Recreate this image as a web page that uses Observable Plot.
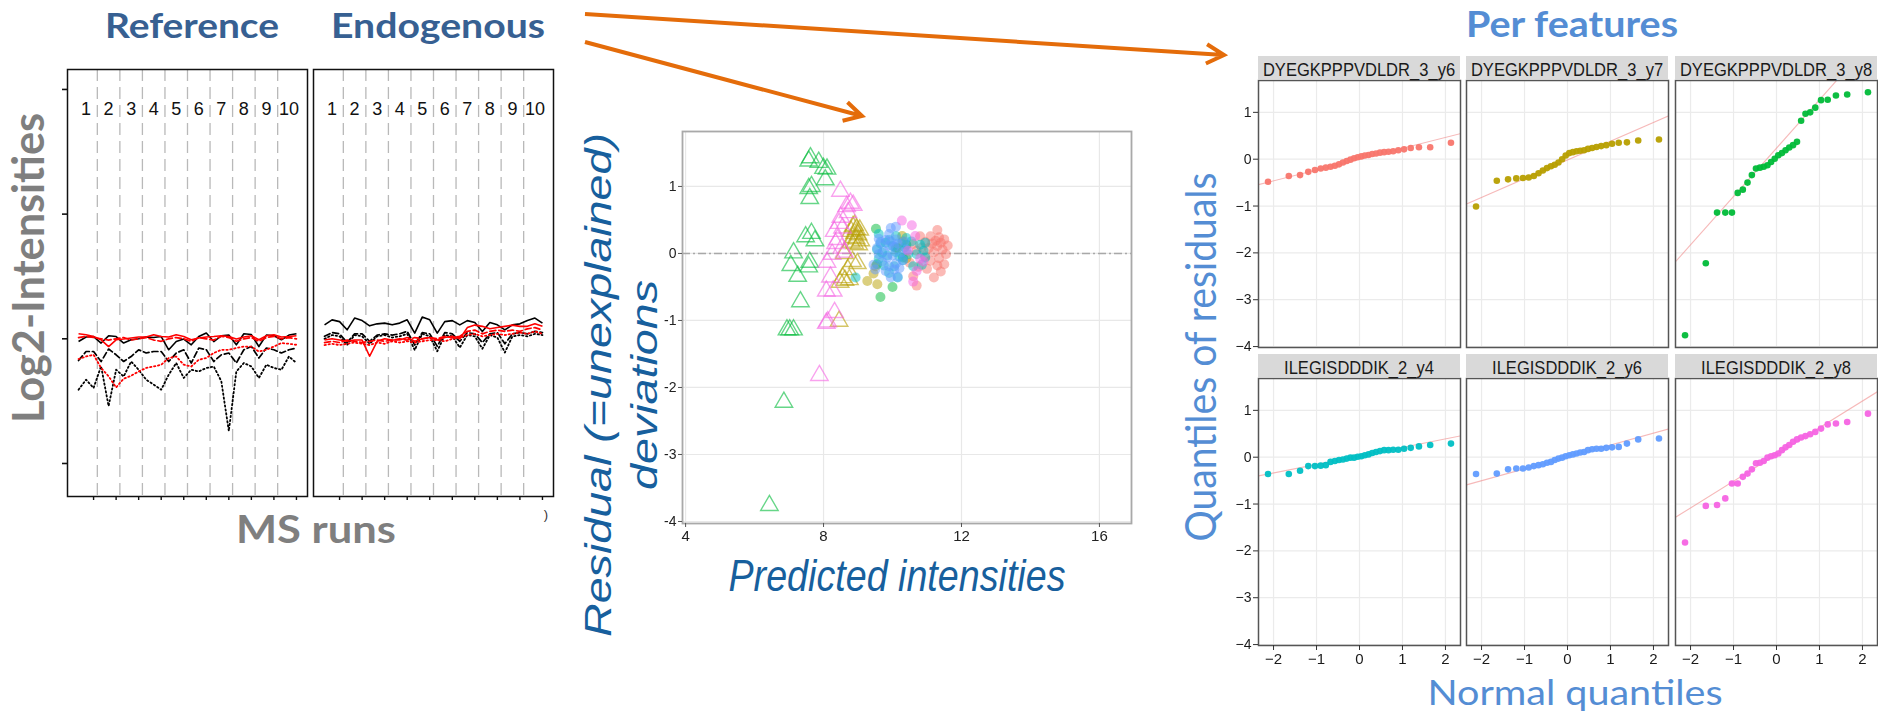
<!DOCTYPE html>
<html>
<head>
<meta charset="utf-8">
<script src="https://cdn.jsdelivr.net/npm/d3@7"></script>
<script src="https://cdn.jsdelivr.net/npm/@observablehq/plot@0.6"></script>
<style>
  html, body { margin: 0; padding: 0; background: #fff; overflow: hidden; }
  #page { position: relative; width: 1878px; height: 712px; overflow: hidden; background: #fff; }
</style>
</head>
<body>
<div id="page"></div>
<script>
// ---------- Profile plot: log2 intensities per MS run (10 groups x 3 runs) ----------
const runGroups = ["1", "2", "3", "4", "5", "6", "7", "8", "9", "10"];
const runsPerGroup = 3;

// Reference (heavy) label
const refDYEG_solid  = [14.89,15.07,15.09,14.83,15.12,15.09,14.83,14.96,15.00,15.07,15.05,15.09,14.56,14.89,14.99,14.76,15.09,15.23,14.89,15.12,15.15,14.76,15.20,15.17,14.69,15.15,15.12,14.96,15.15,15.20];
const refDYEG_dashed = [14.13,14.49,14.49,14.09,14.59,14.36,14.09,14.29,14.56,14.43,14.49,14.49,14.09,14.43,14.56,14.03,14.63,14.56,14.09,14.36,14.43,14.03,14.56,14.69,14.23,14.63,14.56,14.43,14.56,14.63];
const refDYEG_dotted = [12.96,13.36,13.03,13.90,12.30,13.76,13.49,14.09,13.76,13.36,13.16,12.96,13.56,14.03,13.43,13.76,13.69,13.83,13.89,13.30,11.30,13.69,14.03,13.89,13.43,13.96,13.83,13.76,14.29,14.03];
const refILEG_solid  = [15.20,15.16,15.09,14.96,14.69,14.96,14.99,15.03,15.07,15.07,15.16,15.09,15.07,15.16,15.09,14.96,15.03,15.07,15.09,15.12,15.09,14.99,15.07,15.12,14.96,15.12,15.16,15.07,15.09,15.12];
const refILEG_dashed = [15.05,15.10,15.05,15.00,14.95,15.00,15.05,14.95,15.00,15.05,14.95,14.90,15.00,15.05,15.00,14.90,15.05,15.00,14.95,15.10,15.05,14.90,15.00,15.05,14.90,15.05,15.10,15.00,15.05,15.00];
const refILEG_dotted = [14.19,14.29,14.36,13.83,13.50,13.05,13.40,13.52,13.69,13.83,13.89,13.96,14.23,14.29,13.96,13.89,14.16,14.23,14.43,14.56,14.56,14.63,14.69,14.69,14.49,14.56,14.69,14.83,14.80,14.76];

// Endogenous (light) label
const endoDYEG_solid  = [15.56,15.76,15.69,15.36,15.83,15.73,15.52,15.60,15.63,15.56,15.63,15.76,15.23,15.87,15.76,15.23,15.69,15.73,15.56,15.73,15.65,15.29,15.65,15.56,15.36,15.56,15.60,15.73,15.83,15.63];
const endoDYEG_dashed = [15.10,15.25,15.20,14.85,15.20,15.20,14.90,15.15,15.20,15.15,15.20,15.30,14.75,15.25,15.20,14.70,15.25,15.20,14.90,15.25,15.20,14.85,15.20,15.25,14.80,15.20,15.25,15.20,15.30,15.25];
const endoDYEG_dotted = [15.00,15.15,15.10,14.75,15.15,15.10,14.80,15.10,15.15,15.05,15.10,15.20,14.55,15.20,15.10,14.50,15.15,15.10,14.65,15.15,15.10,14.60,15.15,15.05,14.45,15.10,15.15,15.10,15.20,15.15];
const endoILEG_solid  = [14.95,15.00,14.95,14.90,14.95,14.95,14.30,14.90,15.00,14.95,14.95,15.05,14.90,15.00,15.05,14.95,15.05,15.10,15.00,15.45,15.55,15.50,15.40,15.45,15.50,15.55,15.50,15.50,15.60,15.50];
const endoILEG_dashed = [14.85,14.90,14.85,14.95,14.90,14.85,14.90,14.95,14.90,14.95,15.00,14.95,15.05,15.00,15.05,15.00,15.10,15.05,15.10,15.30,15.35,15.20,15.30,15.35,15.30,15.35,15.30,15.40,15.45,15.35];
const endoILEG_dotted = [14.75,14.80,14.75,14.80,14.85,14.80,14.75,14.85,14.80,14.90,14.85,14.90,14.85,14.90,14.95,14.95,14.90,15.00,15.05,15.15,15.20,15.10,15.15,15.20,15.15,15.20,15.25,15.20,15.30,15.20];

const profileTicksY = [10, 15, 20, 25];

// ---------- Residuals per feature (same runs feed the scatter and the Q-Q panels) ----------
const features = ["DYEGKPPPVDLDR_3_y6", "DYEGKPPPVDLDR_3_y7", "DYEGKPPPVDLDR_3_y8",
                  "ILEGISDDDIK_2_y4", "ILEGISDDDIK_2_y6", "ILEGISDDDIK_2_y8"];
const featureColors = ["#F8766D", "#B79F00", "#00BA38", "#00BFC4", "#619CFF", "#F564E3"];

const dy6Resid = [-0.48,-0.36,-0.34,-0.27,-0.23,-0.20,-0.18,-0.16,-0.14,-0.11,-0.07,-0.04,-0.01,0.02,0.04,0.06,0.08,0.09,0.11,0.12,0.14,0.15,0.16,0.17,0.19,0.21,0.24,0.255,0.255,0.35];
const dy6Pred  = [10.70,11.20,10.60,11.40,11.00,10.75,11.30,11.50,10.50,11.10,11.35,10.95,11.55,11.20,10.70,11.45,11.05,10.85,11.30,11.60,10.60,11.15,11.40,10.95,11.25,11.50,11.35,11.10,10.80,11.30];
const dy6Shape = "cccccccccccccccccccccccccccccc";

const dy7Resid = [-1.01,-0.46,-0.43,-0.41,-0.40,-0.39,-0.36,-0.30,-0.24,-0.19,-0.15,-0.12,-0.07,0.00,0.08,0.13,0.15,0.17,0.18,0.19,0.22,0.24,0.26,0.28,0.30,0.33,0.35,0.36,0.40,0.42];
const dy7Pred  = [8.45,9.56,8.48,9.27,8.62,8.75,8.55,9.45,8.70,9.51,8.98,8.84,10.40,8.60,10.15,9.02,8.90,8.80,10.30,9.08,8.95,8.85,10.28,9.00,8.90,8.80,9.05,8.95,8.85,8.90];
const dy7Shape = "tctctttctcttctctttctttcttttttt";

const dy8Resid = [-3.76,-2.22,-1.14,-1.14,-1.14,-0.72,-0.65,-0.50,-0.34,-0.20,-0.18,-0.16,-0.13,-0.06,0.01,0.085,0.13,0.19,0.25,0.30,0.37,0.82,0.97,1.00,1.10,1.26,1.27,1.36,1.38,1.43];
const dy8Pred  = [6.43,6.85,6.94,7.02,7.13,7.33,9.65,10.00,7.25,7.57,7.05,9.55,7.60,10.30,7.13,10.10,10.40,7.75,7.48,7.65,9.52,7.60,7.57,7.65,8.05,8.10,8.00,7.86,7.57,7.62];
const dy8Shape = "ttttttcctttctctcctttcttttttttt";

const il4Resid = [-0.36,-0.36,-0.29,-0.19,-0.19,-0.18,-0.17,-0.10,-0.08,-0.06,-0.05,-0.03,-0.01,-0.01,0.01,0.02,0.04,0.06,0.09,0.11,0.13,0.15,0.15,0.16,0.16,0.18,0.20,0.23,0.26,0.29];
const il4Pred  = [8.93,10.15,9.90,10.60,10.05,9.75,10.85,10.30,9.60,10.95,10.20,9.85,10.45,10.70,9.70,10.10,10.90,9.55,10.35,10.00,10.80,9.65,10.25,10.95,9.80,10.55,9.90,10.40,10.10,9.60];
const il4Shape = "cccccccccccccccccccccccccccccc";

const il6Resid = [-0.36,-0.35,-0.26,-0.24,-0.24,-0.22,-0.19,-0.17,-0.15,-0.12,-0.10,-0.06,-0.03,-0.01,0.02,0.04,0.06,0.08,0.10,0.11,0.15,0.17,0.18,0.18,0.20,0.21,0.22,0.29,0.38,0.40];
const il6Pred  = [9.95,10.15,9.80,10.05,9.50,10.20,9.90,9.45,10.10,9.70,10.30,9.85,10.00,9.60,10.25,9.75,10.40,9.55,10.05,9.90,10.15,9.65,9.95,10.35,9.80,10.10,9.60,9.90,9.95,10.10];
const il6Shape = "cccccccccccccccccccccccccccccc";

const il8Resid = [-1.82,-1.04,-1.02,-0.88,-0.56,-0.56,-0.42,-0.35,-0.26,-0.13,-0.12,-0.08,-0.01,0.02,0.04,0.08,0.15,0.21,0.26,0.33,0.38,0.42,0.45,0.49,0.54,0.61,0.70,0.72,0.75,0.93];
const il8Pred  = [7.88,8.08,8.12,8.32,8.08,8.28,10.60,8.20,10.70,8.10,10.90,10.80,8.25,8.60,10.45,8.53,8.35,8.41,10.66,8.31,8.55,10.56,8.45,10.27,8.50,8.71,8.67,8.86,8.78,8.49];
const il8Shape = "ttttttctctccttctttcttctctttttt";

const scatterTicksX = [4, 8, 12, 16];
const residTicks = [-4, -3, -2, -1, 0, 1];
const normalTicks = [-2, -1, 0, 1, 2];

// ---------- helpers ----------
const page = document.getElementById("page");
const FONT = "'Liberation Sans', Arial, sans-serif";
const intMinus = d => (d < 0 ? "\u2212" : "") + Math.abs(d);

function place(node, left, top, filter) {
  node.style.position = "absolute";
  node.style.left = left + "px";
  node.style.top = top + "px";
  if (filter) node.style.filter = filter;
  page.appendChild(node);
  return node;
}

// inverse standard normal CDF (Acklam)
function qnorm(p) {
  const a = [-3.969683028665376e+01, 2.209460984245205e+02, -2.759285104469687e+02, 1.383577518672690e+02, -3.066479806614716e+01, 2.506628277459239e+00];
  const b = [-5.447609879822406e+01, 1.615858368580409e+02, -1.556989798598866e+02, 6.680131188771972e+01, -1.328068155288572e+01];
  const c = [-7.784894002430293e-03, -3.223964580411365e-01, -2.400758277161838e+00, -2.549732539343734e+00, 4.374664141464968e+00, 2.938163982698783e+00];
  const d = [7.784695709041462e-03, 3.224671290700398e-01, 2.445134137142996e+00, 3.754408661907416e+00];
  const pl = 0.02425;
  if (p < pl) {
    const q = Math.sqrt(-2 * Math.log(p));
    return (((((c[0]*q+c[1])*q+c[2])*q+c[3])*q+c[4])*q+c[5]) / ((((d[0]*q+d[1])*q+d[2])*q+d[3])*q+1);
  }
  if (p > 1 - pl) {
    const q = Math.sqrt(-2 * Math.log(1 - p));
    return -(((((c[0]*q+c[1])*q+c[2])*q+c[3])*q+c[4])*q+c[5]) / ((((d[0]*q+d[1])*q+d[2])*q+d[3])*q+1);
  }
  const q = p - 0.5, r = q * q;
  return (((((a[0]*r+a[1])*r+a[2])*r+a[3])*r+a[4])*r+a[5])*q / (((((b[0]*r+b[1])*r+b[2])*r+b[3])*r+b[4])*r+1);
}

// ---------- profile panels ----------
const groupBreaks = runGroups.slice(1).map((g, i) => (i + 1) * runsPerGroup + 0.5);
const groupCenters = runGroups.map((g, i) => i * runsPerGroup + (runsPerGroup + 1) / 2);
const runTicks = runGroups.map((g, i) => (i + 1) * runsPerGroup);

function profilePanel(series, withYAxis) {
  const ml = withYAxis ? 10 : 1;
  const lineMark = (vals, color, dash, width) => Plot.line(vals, {
    x: (d, i) => i + 1, y: d => d, stroke: color, strokeWidth: width,
    strokeDasharray: dash, strokeLinecap: dash ? "round" : "butt", curve: "linear"
  });
  return Plot.plot({
    width: ml + 240 + 2, height: 2 + 427 + 8,
    marginLeft: ml, marginRight: 2, marginTop: 2, marginBottom: 8,
    style: {fontFamily: FONT, background: "transparent", overflow: "visible", color: "#111"},
    x: {domain: [-0.47, 31.47], axis: null},
    y: {domain: [8.676, 25.8], axis: null},
    marks: [
      Plot.ruleX(groupBreaks, {stroke: "#b9b9b9", strokeWidth: 1.3, strokeDasharray: "12,6"}),
      Plot.text(runGroups, {x: (d, i) => groupCenters[i], frameAnchor: "top", dy: 33, fontSize: 18, fill: "#111", text: d => d}),
      lineMark(series[0], "#000", "1.4,2.6", 1.8),
      lineMark(series[1], "#000", "6,3", 1.7),
      lineMark(series[2], "#000", null, 1.6),
      lineMark(series[3], "#ff0000", "1.4,2.6", 1.8),
      lineMark(series[4], "#ff0000", "6,3", 1.7),
      lineMark(series[5], "#ff0000", null, 1.6),
      Plot.frame({stroke: "#111", strokeWidth: 1.5}),
      Plot.axisX({ticks: runTicks, tickSize: 4, tickFormat: () => "", label: null, stroke: "#111", strokeWidth: 1.4}),
      withYAxis ? Plot.axisY({ticks: profileTicksY, tickSize: 5, tickFormat: () => "", label: null, stroke: "#111", strokeWidth: 1.6}) : null
    ]
  });
}

place(profilePanel([refDYEG_dotted, refDYEG_dashed, refDYEG_solid, refILEG_dotted, refILEG_dashed, refILEG_solid], true), 57, 67);
place(profilePanel([endoDYEG_dotted, endoDYEG_dashed, endoDYEG_solid, endoILEG_dotted, endoILEG_dashed, endoILEG_solid], false), 311.5, 67);

// ---------- residual vs predicted scatter ----------
const residuals = [dy6Resid, dy7Resid, dy8Resid, il4Resid, il6Resid, il8Resid];
const predicted = [dy6Pred, dy7Pred, dy8Pred, il4Pred, il6Pred, il8Pred];
const shapes = [dy6Shape, dy7Shape, dy8Shape, il4Shape, il6Shape, il8Shape];

const scatterRows = features.flatMap((f, k) => residuals[k].map((r, i) => ({
  feature: f, pred: predicted[k][i], resid: r, triangle: shapes[k][i] === "t"
})));

const scatter = Plot.plot({
  width: 520, height: 460, marginLeft: 62, marginTop: 31, marginRight: 9, marginBottom: 37,
  style: {fontFamily: FONT, fontSize: "14px", background: "transparent", overflow: "visible", color: "#222"},
  x: {domain: [3.91, 16.93], axis: null},
  y: {domain: [-4.03, 1.82], axis: null},
  color: {domain: features, range: featureColors},
  marks: [
    Plot.gridX(scatterTicksX, {stroke: "#e8e8e8", strokeOpacity: 1, strokeWidth: 1.2}),
    Plot.gridY(residTicks, {stroke: "#e8e8e8", strokeOpacity: 1, strokeWidth: 1.2}),
    Plot.ruleY([0], {stroke: "#a8a8a8", strokeWidth: 1.6, strokeDasharray: "8,3,2,3"}),
    Plot.dot(scatterRows.filter(d => d.triangle), {x: "pred", y: "resid", symbol: "triangle", r: 6.5,
      stroke: "feature", fill: "none", strokeOpacity: 0.6, strokeWidth: 1.4}),
    Plot.dot(scatterRows.filter(d => !d.triangle), {x: "pred", y: "resid", r: 5,
      fill: "feature", fillOpacity: 0.5, stroke: "none"}),
    Plot.frame({stroke: "#a9a9a9", strokeWidth: 1.8}),
    Plot.axisX({ticks: scatterTicksX, tickSize: 4, tickPadding: 3, label: null, fontSize: 15, stroke: "#555"}),
    Plot.axisY({ticks: residTicks, tickSize: 4, tickPadding: 2, label: null, fontSize: 14, stroke: "#555", tickFormat: d => String(d)})
  ]
});
place(scatter, 620, 100, "blur(0.6px)");

// ---------- normal Q-Q panels, one per feature ----------
const qqCols = [1258, 1466, 1675];
const qqRows = [80, 378];
const qqWidth = 202, qqHeight = 267;
const qqX = [-2.35, 2.35];

function qqPanel(k, col, row) {
  const sorted = residuals[k].slice().sort(d3.ascending);
  const n = sorted.length;
  const pts = sorted.map((r, i) => ({q: qnorm((i + 0.5) / n), r}));
  const q1 = d3.quantile(sorted, 0.25), q3 = d3.quantile(sorted, 0.75);
  const slope = (q3 - q1) / (qnorm(0.75) - qnorm(0.25));
  const icpt = q1 - slope * qnorm(0.25);
  const ml = col === 0 ? 30 : 1;
  const mb = row === 1 ? 34 : 1;
  return Plot.plot({
    width: ml + qqWidth + 1, height: 1 + qqHeight + mb,
    marginLeft: ml, marginRight: 1, marginTop: 1, marginBottom: mb,
    style: {fontFamily: FONT, fontSize: "14px", background: "transparent", overflow: "visible", color: "#1a1a1a"},
    x: {domain: qqX, axis: null},
    y: {domain: [-4.02, 1.68], axis: null},
    color: {domain: features, range: featureColors},
    marks: [
      Plot.gridX(normalTicks, {stroke: "#ebebeb", strokeOpacity: 1, strokeWidth: 1.2}),
      Plot.gridY(residTicks, {stroke: "#ebebeb", strokeOpacity: 1, strokeWidth: 1.2}),
      Plot.link([{x1: qqX[0], x2: qqX[1], y1: icpt + slope * qqX[0], y2: icpt + slope * qqX[1]}],
        {x1: "x1", x2: "x2", y1: "y1", y2: "y2", stroke: "#f08a8a", strokeOpacity: 0.6, strokeWidth: 1.1, clip: true}),
      Plot.dot(pts, {x: "q", y: "r", r: 3.3, fill: () => features[k], fillOpacity: 0.95}),
      Plot.frame({stroke: "#555", strokeWidth: 1.5}),
      col === 0 ? Plot.axisY({ticks: residTicks, tickSize: 5, tickPadding: 2, label: null, fontSize: 14, stroke: "#333", tickFormat: intMinus}) : null,
      row === 1 ? Plot.axisX({ticks: normalTicks, tickSize: 5, tickPadding: 3, label: null, fontSize: 15, stroke: "#333", tickFormat: intMinus}) : null
    ]
  });
}

features.forEach((f, k) => {
  const col = k % 3, row = Math.floor(k / 3);
  const ml = col === 0 ? 30 : 1;
  place(qqPanel(k, col, row), qqCols[col] - ml, qqRows[row] - 1, "blur(0.3px)");
});

// ---------- titles, axis titles, facet strips and arrows ----------
const overlay = d3.create("svg")
  .attr("width", 1878).attr("height", 712)
  .style("position", "absolute").style("left", "0px").style("top", "0px")
  .style("pointer-events", "none").style("overflow", "visible");

function label(text, o) {
  const g = overlay.append("g")
    .attr("transform", `translate(${o.x},${o.y}) rotate(${o.rotate || 0}) scale(${o.sx || 1},${o.sy || 1})`);
  const t = g.append("text")
    .attr("text-anchor", o.anchor || "middle")
    .attr("font-family", o.family || "Lato, 'Open Sans', sans-serif")
    .attr("font-size", o.size)
    .attr("font-weight", o.weight || 400)
    .attr("font-style", o.italic ? "italic" : "normal")
    .attr("fill", o.fill)
    .text(text);
  if (o.length) t.attr("textLength", o.length).attr("lengthAdjust", "spacingAndGlyphs");
  return t;
}

// facet strips
features.forEach((f, k) => {
  const col = k % 3, row = Math.floor(k / 3);
  const x0 = qqCols[col], y0 = qqRows[row] - 24;
  overlay.append("rect").attr("x", x0).attr("y", y0).attr("width", qqWidth).attr("height", 23)
    .attr("fill", "#d9d9d9");
  label(f, {x: x0 + qqWidth / 2, y: y0 + 20, size: 18, family: FONT, fill: "#1a1a1a", sx: 0.92});
});

// left block
label("Reference", {x: 192, y: 38, size: 35, weight: 700, fill: "#376092", length: 174});
label("Endogenous", {x: 438, y: 38, size: 35, weight: 700, fill: "#376092", length: 214});
label("Log2-Intensities", {x: 44, y: 268, rotate: -90, size: 44, weight: 700, fill: "#7f7f7f", length: 310});
label("MS runs", {x: 316, y: 543, size: 39, weight: 700, fill: "#7f7f7f", length: 160});
label(")", {x: 546, y: 519, size: 13, family: FONT, fill: "#333"});

// middle block
const midBlue = "#175f9d";
label("Predicted intensities", {x: 897, y: 591, size: 44, italic: true, family: FONT, fill: midBlue, length: 337});
label("Residual (=unexplained)", {x: 611, y: 385, rotate: -90, sy: 0.85, size: 44, italic: true, family: FONT, fill: midBlue, length: 504});
label("deviations", {x: 657, y: 385, rotate: -90, sy: 0.85, size: 44, italic: true, family: FONT, fill: midBlue, length: 210});

// right block
const rightBlue = "#548DD4";
label("Per features", {x: 1572, y: 37, size: 36, weight: 700, fill: rightBlue, length: 212});
label("Quantiles of residuals", {x: 1216, y: 357, rotate: -90, size: 42, fill: rightBlue, length: 369});
label("Normal quantiles", {x: 1575, y: 705, size: 35, fill: rightBlue, length: 295});

// arrows
function arrow(x1, y1, x2, y2) {
  const a = Math.atan2(y2 - y1, x2 - x1), L = 20, s = 0.5;
  const h1 = [x2 - L * Math.cos(a - s), y2 - L * Math.sin(a - s)];
  const h2 = [x2 - L * Math.cos(a + s), y2 - L * Math.sin(a + s)];
  overlay.append("path")
    .attr("d", `M${x1},${y1}L${x2},${y2}M${h1[0]},${h1[1]}L${x2},${y2}L${h2[0]},${h2[1]}`)
    .attr("fill", "none").attr("stroke", "#E46C0A").attr("stroke-width", 4)
    .attr("stroke-linejoin", "miter").attr("stroke-linecap", "butt");
}
arrow(585, 14, 1224, 55);
arrow(585, 42, 862, 116);

page.appendChild(overlay.node());
</script>
</body>
</html>
